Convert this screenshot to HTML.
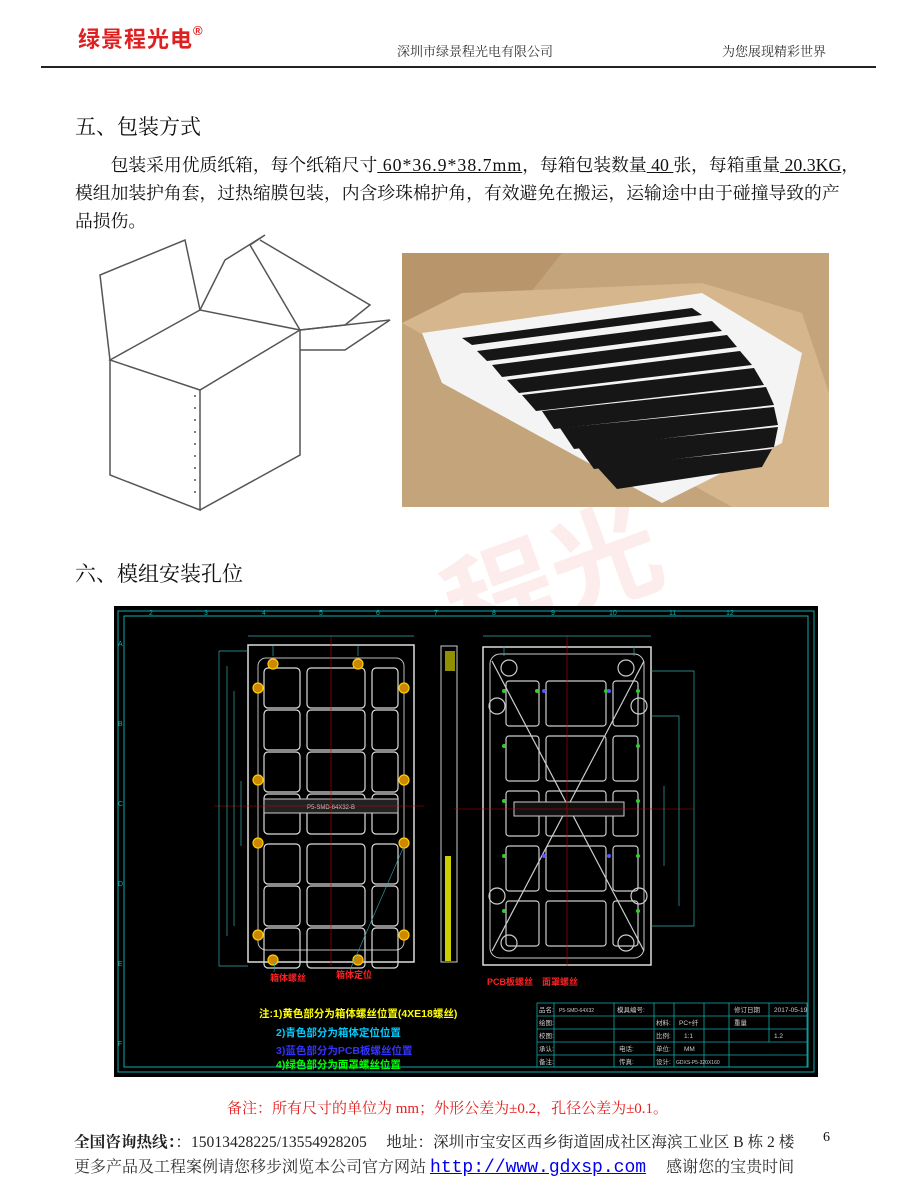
<!DOCTYPE html>
<html><head><meta charset="utf-8"><style>
body{margin:0;width:900px;height:1200px;background:#fff;position:relative;overflow:hidden;font-family:"Liberation Serif","Noto Serif CJK SC",serif;color:#111}
.a{position:absolute;white-space:nowrap}
.u{text-decoration:underline}
</style></head><body>
<div class="a" style="left:78px;top:22px;font:bold 22px 'Liberation Sans','Noto Sans CJK SC',sans-serif;color:#e02020;letter-spacing:1px">绿景程光电<sup style="font-size:13px;position:relative;top:-4px">®</sup></div>
<div class="a" style="left:397px;top:41px;font-size:13px;color:#333">深圳市绿景程光电有限公司</div>
<div class="a" style="left:722px;top:41px;font-size:13px;color:#333">为您展现精彩世界</div>
<div class="a" style="left:41px;top:66px;width:835px;height:2px;background:#222"></div>

<div class="a" style="left:440px;top:490px;font:bold 110px 'Noto Sans CJK SC',sans-serif;color:rgba(240,120,120,0.14);transform:rotate(-20deg)">程光</div>

<div class="a" style="left:75px;top:111px;font-size:21px">五、包装方式</div>
<div class="a" style="left:75px;top:151px;font-size:17.8px;line-height:28px;white-space:nowrap;width:800px">
<div>&emsp;&emsp;包装采用优质纸箱，每个纸箱尺寸<span class="u" style="letter-spacing:1px">&nbsp;60*36.9*38.7mm</span>，每箱包装数量<span class="u">&nbsp;40&nbsp;</span>张，每箱重量<span class="u">&nbsp;20.3KG</span>，</div>
<div>模组加装护角套，过热缩膜包装，内含珍珠棉护角，有效避免在搬运，运输途中由于碰撞导致的产</div>
<div>品损伤。</div></div>

<svg class="a" style="left:90px;top:230px" width="310" height="285" viewBox="0 0 310 285" fill="none" stroke="#555" stroke-width="1.5">
<path d="M20 130 L110 80 L210 100 L110 160 Z"/>
<path d="M20 130 L20 245 L110 280 L110 160"/>
<path d="M110 280 L210 225 L210 100"/>
<path d="M20 130 L10 45 L95 10 L110 80"/>
<path d="M110 80 L135 30 L175 5 L160 15 L210 100"/>
<path d="M170 10 L280 75 L255 95 L210 100"/>
<path d="M210 100 L300 90 L255 120 L210 120"/>
<path d="M105 165 L105 270" stroke-dasharray="2 10"/>
</svg>

<svg class="a" style="left:402px;top:253px" width="427" height="254" viewBox="0 0 427 254">
<rect width="427" height="254" fill="#c4a47b"/>
<path d="M0 0 L160 0 L120 50 L0 70 Z" fill="#b8956a"/>
<path d="M0 70 L60 40 L300 30 L400 60 L427 140 L427 254 L330 254 Z" fill="#d6b68c"/>
<path d="M20 80 L300 40 L400 100 L380 190 L260 250 L40 130 Z" fill="#f4f4f4"/>
<g fill="#161616">
<path d="M60 85 L290 55 L300 62 L70 92Z"/>
<path d="M75 98 L310 68 L320 78 L85 108Z"/>
<path d="M90 112 L325 82 L335 94 L100 124Z"/>
<path d="M105 127 L338 98 L350 112 L117 140Z"/>
<path d="M120 142 L352 115 L362 132 L134 158Z"/>
<path d="M140 158 L364 134 L372 152 L152 176Z"/>
<path d="M158 175 L372 154 L376 172 L172 196Z"/>
<path d="M176 194 L376 174 L372 194 L192 216Z"/>
<path d="M195 214 L370 196 L360 214 L215 236Z"/>
</g>
</svg>

<div class="a" style="left:75px;top:558px;font-size:21px">六、模组安装孔位</div>

<svg class="a" style="left:114px;top:606px" width="704" height="471" viewBox="0 0 704 471" font-family="Liberation Sans,Noto Sans CJK SC,sans-serif">
<rect width="704" height="471" fill="#000"/>
<rect x="4" y="5" width="696" height="461" fill="none" stroke="#1aa" stroke-width="1"/>
<rect x="10" y="10" width="684" height="451" fill="none" stroke="#1aa" stroke-width="1"/>
<g fill="#1aa" font-size="7">
<text x="90" y="9">3</text><text x="148" y="9">4</text><text x="205" y="9">5</text><text x="262" y="9">6</text><text x="320" y="9">7</text><text x="378" y="9">8</text><text x="437" y="9">9</text><text x="495" y="9">10</text><text x="555" y="9">11</text><text x="612" y="9">12</text><text x="35" y="9">2</text>
<text x="4" y="40">A</text><text x="4" y="120">B</text><text x="4" y="200">C</text><text x="4" y="280">D</text><text x="4" y="360">E</text><text x="4" y="440">F</text>
</g>
<rect x="134" y="39" width="166" height="317" fill="none" stroke="#ddd" stroke-width="1.5"/>
<rect x="144" y="52" width="146" height="292" rx="8" fill="none" stroke="#bbb"/>
<g fill="none" stroke="#ddd" stroke-width="1.2">
<g id="cells">
<rect x="150" y="62" width="36" height="40" rx="4"/><rect x="193" y="62" width="58" height="40" rx="4"/><rect x="258" y="62" width="26" height="40" rx="4"/>
</g>
<use href="#cells" y="42"/><use href="#cells" y="84"/><use href="#cells" y="126"/><use href="#cells" y="176"/><use href="#cells" y="218"/><use href="#cells" y="260"/>
</g>
<rect x="150" y="193" width="134" height="14" fill="#222" stroke="#ccc"/>
<text x="193" y="203" font-size="6" fill="#ccc">P5-SMD-64X32-B</text>
<line x1="217" y1="30" x2="217" y2="360" stroke="#c00" stroke-width="0.6"/>
<line x1="100" y1="200" x2="310" y2="200" stroke="#c00" stroke-width="0.6"/>
<g fill="#c80" stroke="#fc0" stroke-width="1.2">
<circle cx="159" cy="58" r="5"/><circle cx="244" cy="58" r="5"/><circle cx="144" cy="82" r="5"/><circle cx="290" cy="82" r="5"/><circle cx="144" cy="174" r="5"/><circle cx="290" cy="174" r="5"/><circle cx="144" cy="237" r="5"/><circle cx="290" cy="237" r="5"/><circle cx="144" cy="329" r="5"/><circle cx="290" cy="329" r="5"/><circle cx="159" cy="354" r="5"/><circle cx="244" cy="354" r="5"/>
</g>
<g fill="none" stroke="#3aa" stroke-width="0.7">
<path d="M105 45 H134 M105 45 V360 H134 M113 60 V330 M120 85 V320 M127 175 V240 M134 30 H300 M159 40 V50 M244 40 V50"/>
</g>
<rect x="327" y="40" width="16" height="316" fill="none" stroke="#ccc"/>
<rect x="331" y="250" width="6" height="105" fill="#cc0"/>
<rect x="331" y="45" width="10" height="20" fill="#cc0" opacity="0.7"/>
<rect x="369" y="41" width="168" height="318" fill="none" stroke="#ddd" stroke-width="1.5"/>
<rect x="376" y="48" width="154" height="304" rx="10" fill="none" stroke="#ccc"/>
<g fill="none" stroke="#ccc" stroke-width="1.2">
<g id="cells2"><rect x="392" y="75" width="33" height="45" rx="3"/><rect x="432" y="75" width="60" height="45" rx="3"/><rect x="499" y="75" width="25" height="45" rx="3"/></g>
<use href="#cells2" y="55"/><use href="#cells2" y="110"/><use href="#cells2" y="165"/><use href="#cells2" y="220"/>
<path d="M378 55 L530 345 M530 55 L378 345"/>
<circle cx="395" cy="62" r="8"/><circle cx="512" cy="62" r="8"/><circle cx="383" cy="100" r="8"/><circle cx="525" cy="100" r="8"/><circle cx="395" cy="337" r="8"/><circle cx="512" cy="337" r="8"/><circle cx="383" cy="290" r="8"/><circle cx="525" cy="290" r="8"/>
</g>
<rect x="400" y="196" width="110" height="14" fill="#111" stroke="#ccc"/>
<line x1="340" y1="203" x2="580" y2="203" stroke="#c00" stroke-width="0.6"/>
<line x1="453" y1="30" x2="453" y2="360" stroke="#c00" stroke-width="0.6"/>
<g fill="none" stroke="#3aa" stroke-width="0.7"><path d="M537 65 H580 V320 H537 M537 110 H565 V300 M550 180 V260 M369 30 H537 M390 40 V50 M520 40 V50"/></g>
<g fill="#3c3"><circle cx="390" cy="85" r="2"/><circle cx="423" cy="85" r="2"/><circle cx="492" cy="85" r="2"/><circle cx="524" cy="85" r="2"/><circle cx="390" cy="140" r="2"/><circle cx="524" cy="140" r="2"/><circle cx="390" cy="195" r="2"/><circle cx="524" cy="195" r="2"/><circle cx="390" cy="250" r="2"/><circle cx="524" cy="250" r="2"/><circle cx="390" cy="305" r="2"/><circle cx="524" cy="305" r="2"/></g>
<g fill="#55f"><circle cx="430" cy="85" r="2"/><circle cx="495" cy="85" r="2"/><circle cx="430" cy="250" r="2"/><circle cx="495" cy="250" r="2"/></g>
<g fill="#f22" font-size="9" font-weight="bold">
<text x="156" y="375">箱体螺丝</text><text x="222" y="372">箱体定位</text><text x="373" y="379">PCB板螺丝</text><text x="428" y="379">面罩螺丝</text>
</g>
<g stroke="#3aa" stroke-width="0.6"><line x1="161" y1="355" x2="160" y2="366"/><line x1="290" y1="240" x2="236" y2="364"/></g>
<g font-size="10.5" font-weight="bold">
<text x="145" y="411" fill="#ff0">注:1)黄色部分为箱体螺丝位置(4XE18螺丝)</text>
<text x="162" y="430" fill="#0cf">2)青色部分为箱体定位位置</text>
<text x="162" y="448" fill="#33f">3)蓝色部分为PCB板螺丝位置</text>
<text x="162" y="462" fill="#0f0">4)绿色部分为面罩螺丝位置</text>
</g>
<g fill="none" stroke="#1aa" stroke-width="0.8">
<rect x="423" y="397" width="270" height="64"/>
<path d="M423 410 H693 M423 423 H693 M423 436 H693 M423 449 H693 M440 397 V461 M500 397 V461 M540 397 V461 M560 397 V461 M590 397 V461 M615 397 V461 M655 397 V410 M655 410 V436"/>
</g>
<g fill="#ccc" font-size="6.5">
<text x="425" y="406">品名:</text><text x="445" y="406" font-size="5">P5-SMD-64X32</text><text x="503" y="406">模具编号:</text><text x="620" y="406">修订日期</text><text x="660" y="406">2017-05-19</text>
<text x="425" y="419">绘图:</text><text x="542" y="419">材料:</text><text x="565" y="419">PC+纤</text><text x="620" y="419">重量</text>
<text x="425" y="432">校图:</text><text x="542" y="432">比例:</text><text x="570" y="432">1:1</text><text x="660" y="432">1.2</text>
<text x="425" y="445">承认:</text><text x="505" y="445">电话:</text><text x="542" y="445">单位:</text><text x="570" y="445">MM</text>
<text x="425" y="458">备注:</text><text x="505" y="458">传真:</text><text x="542" y="458">设计:</text><text x="562" y="458" font-size="5">GDXS-P5-320X160</text>
</g>
</svg>

<div class="a" style="left:227px;top:1097px;font-size:15px;color:#e52020">备注：所有尺寸的单位为 mm；外形公差为±0.2，孔径公差为±0.1。</div>
<div class="a" style="left:74px;top:1130px;font-size:15.6px;color:#222"><b>全国咨询热线：</b>：15013428225/13554928205&emsp;&nbsp;地址：深圳市宝安区西乡街道固成社区海滨工业区 B 栋 2 楼</div>
<div class="a" style="left:823px;top:1130px;font-size:14px">6</div>
<div class="a" style="left:74px;top:1154px;font-size:16px;color:#333">更多产品及工程案例请您移步浏览本公司官方网站 <span style="color:#00e;text-decoration:underline;font-family:'Liberation Mono',monospace;font-size:18px">http://www.gdxsp.com</span>&emsp;&nbsp;感谢您的宝贵时间</div>
</body></html>
